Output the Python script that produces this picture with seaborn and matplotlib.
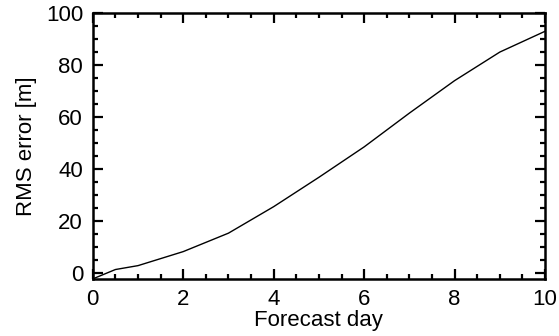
#!/usr/bin/env python3
"""RMS error growth vs forecast day (IDL-style box plot)."""
import matplotlib

matplotlib.use("Agg")
import matplotlib.pyplot as plt
import pandas as pd
import seaborn as sns
from matplotlib.ticker import MultipleLocator

# values
forecast_day = [0, 0.5, 1, 2, 3, 4, 5, 6, 7, 8, 9, 10]
rms_error = [-2.3, 1.3, 2.8, 8.2, 15.3, 25.5, 36.8, 48.5, 61.5, 74.0, 85.0, 93.0]


def main():
    sns.set_theme(style="white")
    plt.rcParams["font.family"] = ["Liberation Sans", "DejaVu Sans"]
    df = pd.DataFrame({"day": forecast_day, "rms": rms_error})

    fig = plt.figure(figsize=(5.59, 3.36), dpi=100)
    ax = fig.add_axes([0.166, 0.170, 0.809, 0.791])
    sns.lineplot(data=df, x="day", y="rms", color="black", linewidth=1.0, ax=ax)

    ax.set_xlim(0, 10)
    ax.set_ylim(-2.3, 100)
    ax.xaxis.set_major_locator(MultipleLocator(2))
    ax.xaxis.set_minor_locator(MultipleLocator(0.5))
    ax.yaxis.set_major_locator(MultipleLocator(20))
    ax.yaxis.set_minor_locator(MultipleLocator(5))
    ax.tick_params(which="both", direction="in", top=True, right=True,
                   bottom=True, left=True, color="black", labelsize=16,
                   labelcolor="black")
    ax.tick_params(which="major", length=7, width=1.6, pad=7)
    ax.tick_params(which="minor", length=3.5, width=1.6)
    for s in ax.spines.values():
        s.set_linewidth(1.8)
        s.set_color("black")

    ax.set_xlabel("Forecast day", fontsize=16, labelpad=0, color="black")
    ax.set_ylabel("RMS error [m]", fontsize=16, labelpad=6, color="black")

    fig.savefig("out.png", dpi=100)


if __name__ == "__main__":
    main()
